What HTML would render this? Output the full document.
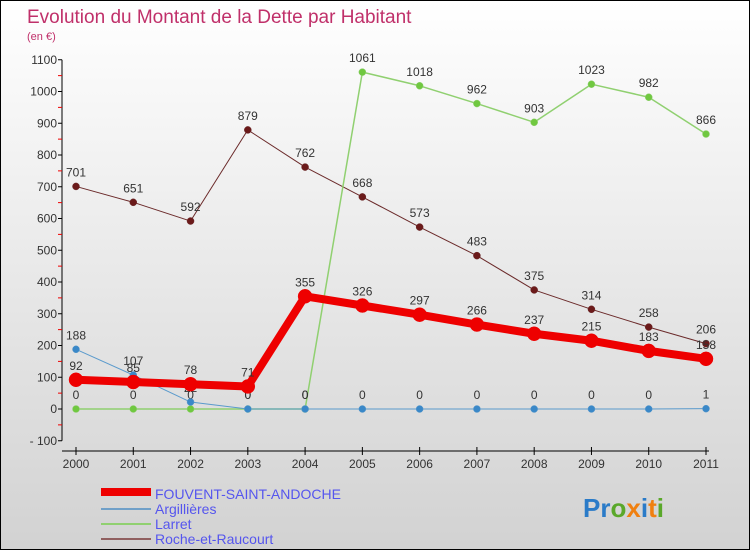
<!DOCTYPE html>
<html><head><meta charset="utf-8">
<style>
html,body{margin:0;padding:0}
body{width:750px;height:550px;overflow:hidden;font-family:"Liberation Sans",sans-serif}
#c{position:absolute;left:0;top:0;width:748px;height:548px;border:1px solid #000;background:linear-gradient(#ffffff,#d2d2d2)}
</style></head><body>
<div id="c">
<svg id="s" width="748" height="548">
<text x="26" y="22" font-size="19" fill="#c0306a">Evolution du Montant de la Dette par Habitant</text>
<text x="26" y="39" font-size="11" fill="#c0306a">(en €)</text>
<g id="axes"></g><g id="series"></g>
<g font-size="14" fill="#5555ee">
<rect x="100" y="487" width="50" height="8" fill="#ee0000"/>
<text x="154" y="498">FOUVENT-SAINT-ANDOCHE</text>
<rect x="100" y="507" width="50" height="2" fill="#70a0c8"/>
<text x="154" y="513">Argillières</text>
<rect x="100" y="522" width="50" height="2" fill="#90d070"/>
<text x="154" y="528">Larret</text>
<rect x="100" y="537" width="50" height="2" fill="#906060"/>
<text x="154" y="543">Roche-et-Raucourt</text>
</g>
<text x="582" y="516" font-size="26" font-weight="bold"><tspan fill="#2a7bc8">Pr</tspan><tspan fill="#5aa82a">o</tspan><tspan fill="#f08010">x</tspan><tspan fill="#2a7bc8">i</tspan><tspan fill="#f08010">t</tspan><tspan fill="#5aa82a">i</tspan></text>
</svg></div>
<script>
const years=[2000,2001,2002,2003,2004,2005,2006,2007,2008,2009,2010,2011];
const yTicks=[-100,0,100,200,300,400,500,600,700,800,900,1000,1100];
const fouvent=[92,85,78,71,355,326,297,266,237,215,183,158];
const argillieres=[188,107,22,0,0,0,0,0,0,0,0,1];
const larret=[0,0,0,0,0,1061,1018,962,903,1023,982,866];
const roche=[701,651,592,879,762,668,573,483,375,314,258,206];
const NS="http://www.w3.org/2000/svg";
const X=i=>75+i*(630/11);
const Y=v=>408-v*0.3175;
function mk(p,t,a){const e=document.createElementNS(NS,t);for(const k in a)e.setAttribute(k,a[k]);p.appendChild(e);return e;}
const ax=document.getElementById('axes');
const yl=mk(ax,'line',{x1:61,y1:Y(1100),x2:61,y2:Y(-100),stroke:'#000','stroke-width':1});


const xl=mk(ax,'line',{x1:61,y1:450,x2:708,y2:450,stroke:'#000','stroke-width':1});


yTicks.forEach(v=>{
 mk(ax,'line',{x1:57,y1:Y(v),x2:61,y2:Y(v),stroke:'#000'});
 if(v<1100) mk(ax,'line',{x1:57,y1:Y(v+50),x2:61,y2:Y(v+50),stroke:'#e00'});
 const t=mk(ax,'text',{x:56,y:Y(v)+4,'text-anchor':'end','font-size':12,fill:'#333'});
 t.textContent=v<0?'- '+(-v):v;
 
 
});
years.forEach((y,i)=>{
 mk(ax,'line',{x1:X(i),y1:446,x2:X(i),y2:454,stroke:'#000'});
 const t=mk(ax,'text',{x:X(i),y:467,'text-anchor':'middle','font-size':12,fill:'#333'});
 t.textContent=y;
 
 
});
const sg=document.getElementById('series');
function series(name,vals,color,dot,w,r){
 const g=mk(sg,'g',{});
 
 
 const pl=mk(g,'polyline',{points:vals.map((v,i)=>X(i)+','+Y(v)).join(' '),fill:'none',stroke:color,'stroke-width':w,'stroke-linejoin':'round'});
 
 
 vals.forEach((v,i)=>{
  const c=mk(g,'circle',{cx:X(i),cy:Y(v),r:r,fill:dot,stroke:color,'stroke-width':0.5});
  
  
  const t=mk(g,'text',{x:X(i),y:Y(v)-10,'text-anchor':'middle','font-size':12,fill:'#333'});
  t.textContent=v;
  
  
 });
}
series('roche',roche,'#6b2a2a','#6b1a1a',1,3.5);
series('larret',larret,'#90d070','#70c840',1.5,3.5);
series('argillieres',argillieres,'#5a9acc','#3a88c8',1,3.5);
series('fouvent',fouvent,'#ee0000','#ee0000',8,7);
</script>
</body></html>
